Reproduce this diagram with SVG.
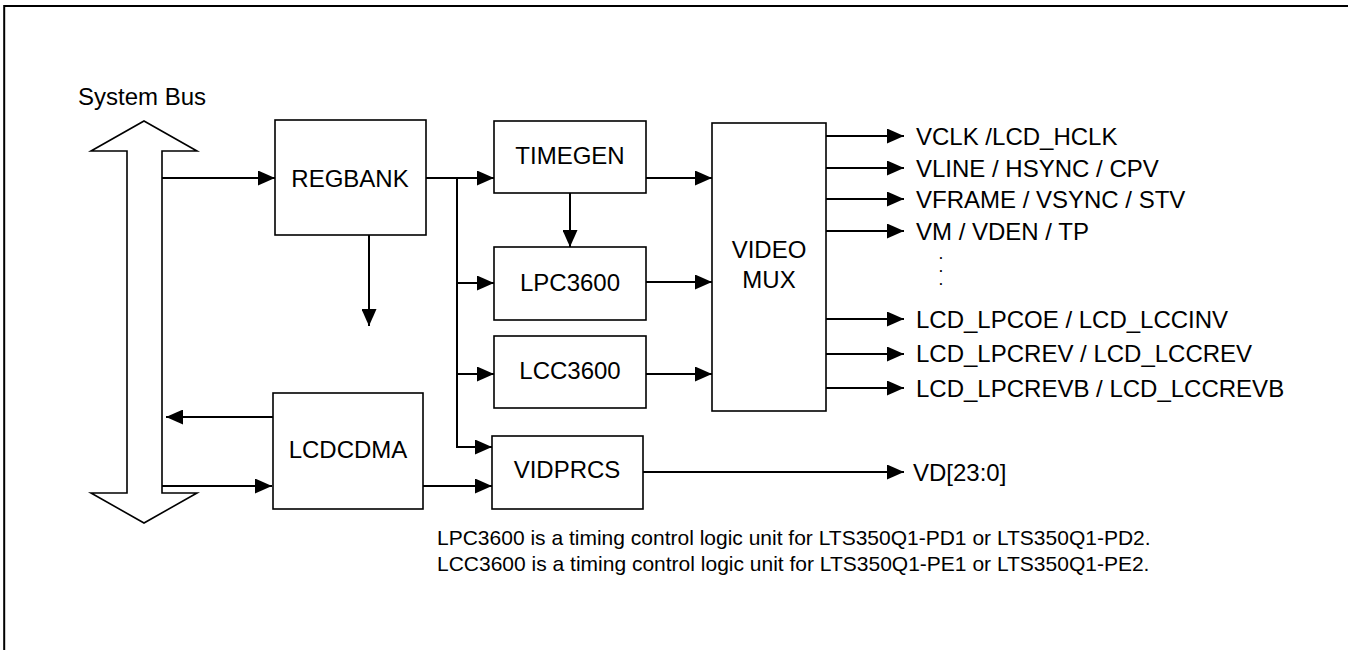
<svg xmlns="http://www.w3.org/2000/svg" width="1348" height="650" viewBox="0 0 1348 650">
<style>
.box{fill:#fff;stroke:#000;stroke-width:1.6}
.ln{fill:none;stroke:#000;stroke-width:2}
.t{font-family:"Liberation Sans",Arial,sans-serif;font-size:24px;fill:#000}
.c{text-anchor:middle}
.d{font-family:"Liberation Sans",Arial,sans-serif;font-size:12px;font-weight:bold;fill:#000;text-anchor:middle}
.n{font-family:"Liberation Sans",Arial,sans-serif;font-size:21px;fill:#000}
</style>
<defs>
<marker id="ah" markerUnits="userSpaceOnUse" markerWidth="17" markerHeight="15" refX="17" refY="7.5" orient="auto">
<path d="M0,0 L17,7.5 L0,15 z" fill="#000"/>
</marker>
</defs>
<rect x="0" y="0" width="1348" height="650" fill="#fff"/>
<rect x="4.2" y="6" width="1400" height="700" fill="none" stroke="#000" stroke-width="2"/>

<g id="systembus">
<polygon points="144,121 197,151 162,151 162,493 197,493 144,523 91,493 127,493 127,151 91,151" fill="#fff" stroke="#000" stroke-width="1.6"/>
<text class="t" x="78" y="105">System Bus</text>
</g>
<g id="regbank">
<rect class="box" x="275" y="120" width="151" height="115"/>
<text class="t c" x="350" y="187">REGBANK</text>
</g>
<g id="timegen">
<rect class="box" x="494" y="121" width="152" height="72"/>
<text class="t c" x="570" y="164">TIMEGEN</text>
</g>
<g id="lpc3600">
<rect class="box" x="494" y="247" width="152" height="73"/>
<text class="t c" x="570" y="291">LPC3600</text>
</g>
<g id="lcc3600">
<rect class="box" x="494" y="336" width="152" height="72"/>
<text class="t c" x="570" y="379">LCC3600</text>
</g>
<g id="videomux">
<rect class="box" x="712" y="123" width="114" height="288"/>
<text class="t c" x="769" y="258">VIDEO</text>
<text class="t c" x="769" y="288">MUX</text>
</g>
<g id="lcdcdma">
<rect class="box" x="273" y="393" width="150" height="116"/>
<text class="t c" x="348" y="458">LCDCDMA</text>
</g>
<g id="vidprcs">
<rect class="box" x="492" y="436" width="151" height="73"/>
<text class="t c" x="567" y="478">VIDPRCS</text>
</g>

<g id="connectors">
<line class="ln" x1="162" y1="178" x2="275" y2="178" marker-end="url(#ah)"/>
<line class="ln" x1="369" y1="235" x2="369" y2="326" marker-end="url(#ah)"/>
<line class="ln" x1="426" y1="178" x2="494" y2="178" marker-end="url(#ah)"/>
<polyline class="ln" points="457,178 457,447 492,447" marker-end="url(#ah)"/>
<line class="ln" x1="457" y1="283" x2="494" y2="283" marker-end="url(#ah)"/>
<line class="ln" x1="457" y1="374" x2="494" y2="374" marker-end="url(#ah)"/>
<line class="ln" x1="570" y1="193" x2="570" y2="247" marker-end="url(#ah)"/>
<line class="ln" x1="646" y1="178" x2="712" y2="178" marker-end="url(#ah)"/>
<line class="ln" x1="646" y1="282" x2="712" y2="282" marker-end="url(#ah)"/>
<line class="ln" x1="646" y1="374" x2="712" y2="374" marker-end="url(#ah)"/>
<line class="ln" x1="273" y1="417" x2="166" y2="417" marker-end="url(#ah)"/>
<line class="ln" x1="162" y1="486" x2="272" y2="486" marker-end="url(#ah)"/>
<line class="ln" x1="423" y1="486" x2="492" y2="486" marker-end="url(#ah)"/>
<line class="ln" x1="643" y1="472" x2="904" y2="472" marker-end="url(#ah)"/>
<line class="ln" x1="826" y1="136" x2="904" y2="136" marker-end="url(#ah)"/>
<line class="ln" x1="826" y1="168" x2="904" y2="168" marker-end="url(#ah)"/>
<line class="ln" x1="826" y1="199" x2="904" y2="199" marker-end="url(#ah)"/>
<line class="ln" x1="826" y1="231" x2="904" y2="231" marker-end="url(#ah)"/>
<line class="ln" x1="826" y1="319" x2="904" y2="319" marker-end="url(#ah)"/>
<line class="ln" x1="826" y1="354" x2="904" y2="354" marker-end="url(#ah)"/>
<line class="ln" x1="826" y1="388" x2="904" y2="388" marker-end="url(#ah)"/>
</g>

<g id="outputs">
<text class="t" x="916" y="145">VCLK /LCD_HCLK</text>
<text class="t" x="916" y="177">VLINE / HSYNC / CPV</text>
<text class="t" x="916" y="208">VFRAME / VSYNC / STV</text>
<text class="t" x="916" y="240">VM / VDEN / TP</text>
<text class="d" x="941" y="259">.</text>
<text class="d" x="941" y="272">.</text>
<text class="d" x="941" y="285">.</text>
<text class="t" x="916" y="328">LCD_LPCOE / LCD_LCCINV</text>
<text class="t" x="916" y="362">LCD_LPCREV / LCD_LCCREV</text>
<text class="t" x="916" y="397">LCD_LPCREVB / LCD_LCCREVB</text>
<text class="t" x="913" y="481">VD[23:0]</text>
</g>
<g id="notes">
<text class="n" x="437" y="545">LPC3600 is a timing control logic unit for LTS350Q1-PD1 or LTS350Q1-PD2.</text>
<text class="n" x="437" y="571">LCC3600 is a timing control logic unit for LTS350Q1-PE1 or LTS350Q1-PE2.</text>
</g>
</svg>
